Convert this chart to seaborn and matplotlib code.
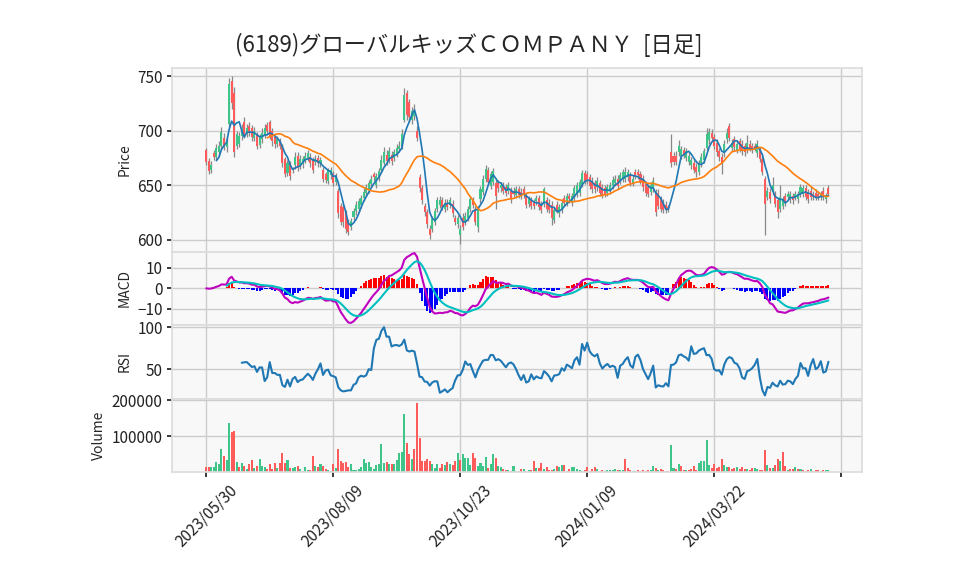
import numpy as np
import pandas as pd
import matplotlib
matplotlib.use("Agg")
import matplotlib.pyplot as plt
import seaborn as sns

title = "(6189)グローバルキッズＣＯＭＰＡＮＹ  [日足]"
tick_pos = [0, 50, 100, 150, 200, 250]
tick_labels = ["2023/05/30", "2023/08/09", "2023/10/23", "2024/01/09", "2024/03/22", ""]

open_ = [
    682, 672, 664, 679, 676, 680, 686, 693, 685, 706,
    745, 734, 686, 688, 695, 708, 697, 704, 702, 693,
    696, 687, 692, 696, 705, 708, 700, 694, 688, 690,
    686, 674, 661, 670, 665, 668, 677, 668, 669, 673,
    675, 676, 673, 671, 675, 670, 664, 660, 654, 659,
    660, 653, 645, 631, 630, 625, 616, 612, 621, 626,
    628, 632, 638, 643, 646, 651, 660, 650, 657, 664,
    670, 678, 673, 678, 675, 678, 683, 685, 710, 734,
    726, 710, 713, 700, 657, 647, 631, 625, 610, 610,
    616, 628, 632, 636, 628, 634, 632, 633, 620, 614,
    604, 620, 616, 620, 628, 636, 628, 612, 637, 644,
    656, 664, 649, 653, 652, 652, 647, 650, 648, 645,
    645, 645, 641, 646, 644, 646, 640, 633, 636, 634,
    635, 638, 632, 633, 636, 634, 632, 618, 632, 624,
    627, 638, 634, 640, 634, 638, 642, 643, 651, 661,
    660, 657, 654, 652, 648, 652, 648, 647, 643, 645,
    649, 652, 656, 654, 656, 656, 657, 659, 652, 662,
    662, 660, 656, 651, 648, 644, 647, 643, 643, 637,
    634, 632, 630, 680, 677, 677, 680, 677, 682, 675,
    671, 668, 670, 667, 662, 670, 673, 684, 691, 698,
    694, 689, 681, 676, 679, 692, 704, 684, 692, 682,
    690, 688, 686, 682, 688, 686, 686, 679, 682, 674,
    656, 639, 644, 644, 642, 636, 628, 631, 640, 639,
    637, 640, 639, 637, 642, 642, 647, 643, 645, 642,
    643, 642, 639, 645, 637, 647,
]
high = [
    684, 675, 672, 682, 688, 690, 703, 698, 694, 748,
    750, 740, 700, 699, 706, 712, 706, 708, 705, 703,
    699, 697, 702, 706, 708, 710, 702, 696, 695, 693,
    688, 676, 673, 672, 667, 680, 680, 678, 677, 680,
    682, 679, 676, 678, 678, 676, 667, 662, 666, 667,
    663, 661, 647, 634, 632, 627, 619, 620, 629, 635,
    638, 641, 647, 651, 655, 659, 662, 661, 666, 678,
    685, 682, 685, 681, 683, 688, 690, 701, 739, 737,
    729, 722, 724, 704, 660, 650, 634, 628, 613, 622,
    629, 639, 640, 639, 637, 637, 639, 636, 623, 623,
    613, 624, 625, 631, 640, 639, 631, 631, 649, 659,
    668, 667, 663, 666, 655, 655, 653, 653, 651, 653,
    648, 648, 649, 649, 647, 649, 643, 640, 639, 637,
    641, 641, 635, 648, 639, 637, 635, 630, 635, 633,
    637, 641, 643, 643, 643, 650, 653, 656, 664, 664,
    663, 660, 657, 655, 657, 655, 651, 650, 651, 653,
    658, 659, 659, 662, 665, 667, 665, 662, 659, 665,
    665, 663, 659, 654, 651, 653, 657, 646, 646, 640,
    637, 635, 632, 697, 680, 681, 691, 686, 685, 684,
    680, 676, 673, 670, 673, 679, 684, 702, 702, 701,
    697, 692, 684, 679, 691, 702, 707, 692, 695, 691,
    693, 691, 689, 696, 691, 689, 689, 691, 685, 677,
    658, 648, 647, 657, 645, 638, 650, 640, 643, 645,
    645, 643, 645, 645, 651, 650, 650, 646, 648, 645,
    646, 645, 645, 648, 643, 650,
]
low = [
    668, 660, 661, 673, 673, 677, 683, 682, 680, 703,
    720, 676, 683, 685, 691, 693, 694, 695, 690, 690,
    683, 684, 689, 693, 697, 692, 686, 684, 685, 683,
    667, 657, 658, 655, 661, 665, 663, 665, 666, 670,
    672, 667, 661, 668, 667, 667, 653, 652, 651, 656,
    649, 650, 620, 613, 612, 606, 604, 609, 618, 623,
    625, 629, 635, 640, 643, 648, 654, 647, 654, 662,
    668, 668, 670, 668, 672, 676, 680, 683, 708, 710,
    708, 706, 710, 690, 644, 633, 622, 611, 601, 607,
    613, 625, 629, 627, 625, 627, 629, 621, 613, 611,
    596, 609, 613, 617, 625, 629, 613, 607, 634, 641,
    653, 650, 646, 650, 628, 644, 644, 642, 640, 642,
    634, 639, 638, 638, 637, 638, 629, 630, 628, 628,
    632, 627, 624, 630, 625, 624, 613, 615, 624, 621,
    624, 631, 631, 634, 631, 635, 639, 640, 648, 651,
    651, 646, 643, 643, 645, 640, 638, 639, 640, 642,
    646, 649, 646, 651, 653, 653, 654, 649, 649, 656,
    656, 651, 645, 640, 639, 641, 644, 622, 628, 625,
    624, 624, 625, 667, 668, 668, 677, 674, 675, 672,
    668, 665, 661, 657, 659, 667, 670, 682, 688, 690,
    683, 677, 672, 660, 676, 689, 690, 681, 682, 679,
    680, 678, 677, 679, 681, 679, 681, 676, 671, 659,
    604, 636, 634, 641, 630, 620, 625, 628, 631, 636,
    634, 633, 636, 634, 639, 639, 636, 634, 636, 636,
    636, 636, 636, 636, 634, 640,
]
close = [
    671, 663, 668, 676, 684, 686, 699, 686, 690, 743,
    725, 680, 697, 695, 702, 696, 702, 698, 694, 700,
    686, 694, 698, 702, 700, 695, 690, 688, 692, 686,
    670, 660, 670, 658, 664, 676, 666, 674, 674, 677,
    679, 670, 664, 674, 670, 673, 656, 655, 663, 664,
    652, 658, 624, 616, 616, 610, 607, 617, 626, 632,
    635, 638, 644, 648, 652, 656, 657, 658, 663, 673,
    680, 672, 681, 672, 680, 684, 686, 697, 733, 714,
    712, 718, 718, 693, 647, 636, 625, 614, 604, 619,
    626, 636, 636, 630, 634, 630, 636, 624, 616, 620,
    610, 612, 622, 628, 637, 632, 616, 628, 646, 656,
    665, 653, 660, 663, 640, 647, 650, 645, 643, 650,
    637, 642, 646, 641, 640, 641, 632, 637, 631, 631,
    638, 630, 627, 646, 628, 627, 620, 627, 627, 630,
    634, 634, 640, 637, 640, 647, 650, 653, 661, 654,
    654, 649, 646, 646, 654, 643, 641, 642, 648, 650,
    655, 656, 649, 659, 662, 662, 662, 652, 656, 659,
    659, 654, 648, 643, 642, 650, 654, 625, 631, 628,
    627, 627, 627, 670, 671, 671, 686, 683, 678, 681,
    677, 673, 664, 662, 670, 676, 681, 697, 699, 693,
    686, 680, 676, 670, 688, 698, 693, 689, 685, 688,
    683, 681, 680, 689, 684, 682, 684, 688, 674, 662,
    633, 645, 637, 650, 633, 625, 639, 637, 634, 642,
    642, 636, 642, 642, 648, 647, 639, 637, 639, 639,
    639, 639, 642, 639, 640, 642,
]
volume = [
    14000, 14000, 14000, 14000, 27000, 23000, 63000, 46000, 34000, 137000,
    111000, 114000, 29000, 14000, 26000, 17000, 9000, 23000, 34000, 11000,
    17000, 37000, 17000, 14000, 9000, 23000, 9000, 26000, 11000, 26000,
    54000, 26000, 34000, 11000, 11000, 14000, 17000, 9000, 3000, 14000,
    6000, 6000, 46000, 17000, 14000, 23000, 17000, 9000, 6000, 3000,
    23000, 11000, 63000, 31000, 26000, 29000, 14000, 23000, 6000, 6000,
    9000, 14000, 37000, 26000, 29000, 14000, 9000, 20000, 23000, 77000,
    26000, 29000, 23000, 23000, 23000, 34000, 54000, 56000, 160000, 80000,
    51000, 37000, 63000, 192000, 94000, 31000, 31000, 37000, 31000, 23000,
    11000, 23000, 11000, 23000, 20000, 29000, 23000, 20000, 31000, 54000,
    34000, 49000, 40000, 40000, 20000, 54000, 40000, 17000, 26000, 17000,
    43000, 11000, 23000, 51000, 40000, 17000, 14000, 9000, 6000, 6000,
    3000, 17000, 3000, 3000, 8000, 8000, 3000, 6000, 6000, 31000,
    11000, 11000, 25000, 8000, 14000, 6000, 6000, 8000, 17000, 14000,
    20000, 20000, 3000, 8000, 14000, 14000, 8000, 6000, 3000, 5000,
    14000, 3000, 8000, 14000, 8000, 3000, 6000, 3000, 5000, 5000,
    5000, 8000, 5000, 5000, 5000, 37000, 11000, 6000, 3000, 3000,
    5000, 3000, 5000, 3000, 6000, 5000, 17000, 11000, 6000, 8000,
    5000, 3000, 3000, 74000, 11000, 8000, 23000, 17000, 5000, 5000,
    5000, 8000, 17000, 6000, 26000, 31000, 31000, 89000, 20000, 11000,
    23000, 11000, 14000, 37000, 20000, 14000, 14000, 8000, 11000, 14000,
    8000, 14000, 8000, 8000, 5000, 11000, 11000, 8000, 5000, 5000,
    60000, 20000, 11000, 11000, 20000, 37000, 31000, 57000, 17000, 5000,
    8000, 8000, 14000, 8000, 8000, 6000, 3000, 5000, 8000, 3000,
    6000, 6000, 3000, 6000, 6000, 6000,
]

UP = "#3fc48a"
DOWN = "#ff5b5b"

df = pd.DataFrame({"open": open_, "high": high, "low": low, "close": close, "volume": volume})
df["idx"] = np.arange(len(df))
df["ma5"] = df["close"].rolling(5).mean()
df["ma25"] = df["close"].rolling(25).mean()
ema12 = df["close"].ewm(span=12).mean()
ema26 = df["close"].ewm(span=26).mean()
df["macd"] = ema12 - ema26
df["signal"] = df["macd"].ewm(span=9, min_periods=9).mean()
df["hist"] = df["macd"] - df["signal"]
delta = df["close"].diff()
gain = delta.clip(lower=0).rolling(14).mean()
loss = (-delta.clip(upper=0)).rolling(14).mean()
df["rsi"] = 100 - 100 / (1 + gain / loss)

sns.set_theme(style="whitegrid", rc={
    "axes.facecolor": "#f8f8f8",
    "axes.edgecolor": "#dddddd",
    "grid.color": "#cccccc",
    "grid.linewidth": 1.0,
    "xtick.bottom": True,
    "ytick.left": True,
    "xtick.color": "#222222",
    "ytick.color": "#222222",
    "xtick.major.size": 3.5,
    "ytick.major.size": 3.5,
    "xtick.labelsize": 11,
    "ytick.labelsize": 11,
    "axes.labelsize": 10,
})
plt.rcParams["font.family"] = ["Noto Sans CJK JP", "DejaVu Sans"]

fig = plt.figure(figsize=(9.58, 5.75), dpi=100)
gs = fig.add_gridspec(4, 1, height_ratios=[5, 2, 2, 2], hspace=0,
                      left=0.18, right=0.9, top=0.882, bottom=0.179)
ax_p = fig.add_subplot(gs[0])
ax_m = fig.add_subplot(gs[1], sharex=ax_p)
ax_r = fig.add_subplot(gs[2], sharex=ax_p)
ax_v = fig.add_subplot(gs[3], sharex=ax_p)

x = df["idx"].to_numpy()
o = df["open"].to_numpy(); c = df["close"].to_numpy()
up = c >= o
body_bottom = np.minimum(o, c)
body_h = np.maximum(np.abs(c - o), 0.6)

# price panel
ax_p.vlines(x, df["low"], df["high"], color="#888888", linewidth=0.9, zorder=2)
ax_p.bar(x, body_h, bottom=body_bottom, width=0.8,
         color=np.where(up, UP, DOWN), linewidth=0, zorder=3)
sns.lineplot(data=df, x="idx", y="ma5", ax=ax_p, color="#1f77b4", linewidth=1.2, zorder=4)
sns.lineplot(data=df, x="idx", y="ma25", ax=ax_p, color="#ff7f0e", linewidth=1.2, zorder=4)
ax_p.set_ylabel("Price")
ax_p.set_ylim(589, 757.5)
ax_p.set_yticks([600, 650, 700, 750])

# MACD panel
hist = df["hist"].to_numpy()
ax_m.bar(x, np.nan_to_num(hist), width=0.8,
         color=np.where(hist >= 0, "#ff0000", "#0000ff"), linewidth=0, zorder=2)
sns.lineplot(data=df, x="idx", y="macd", ax=ax_m, color="#bf00bf", linewidth=1.5, zorder=3)
sns.lineplot(data=df, x="idx", y="signal", ax=ax_m, color="#00bfbf", linewidth=1.5, zorder=3)
ax_m.set_ylabel("MACD")
ax_m.set_ylim(-18, 18)
ax_m.set_yticks([-10, 0, 10])

# RSI panel
sns.lineplot(data=df, x="idx", y="rsi", ax=ax_r, color="#1f77b4", linewidth=1.5)
ax_r.set_ylabel("RSI")
ax_r.set_ylim(15, 102.5)
ax_r.set_yticks([50, 100])

# Volume panel
vup = np.r_[False, c[1:] > c[:-1]]
ax_v.bar(x, df["volume"], width=0.8, color=np.where(vup, UP, DOWN), linewidth=0)
ax_v.set_ylabel("Volume")
ax_v.set_ylim(0, 204000)
ax_v.set_yticks([100000, 200000])
ax_v.ticklabel_format(axis="y", style="plain", useOffset=False)

for ax in (ax_p, ax_m, ax_r):
    ax.tick_params(axis="x", length=0, labelbottom=False)
    ax.set_xlabel("")
ax_v.set_xlim(-13.3, 258.3)
ax_v.set_xticks(tick_pos)
ax_v.set_xticklabels(tick_labels, rotation=45)
ax_v.set_xlabel("")

fig.text(0.489, 0.922, title, ha="center", va="center", fontsize=16)
fig.savefig("out.png", dpi=100)
